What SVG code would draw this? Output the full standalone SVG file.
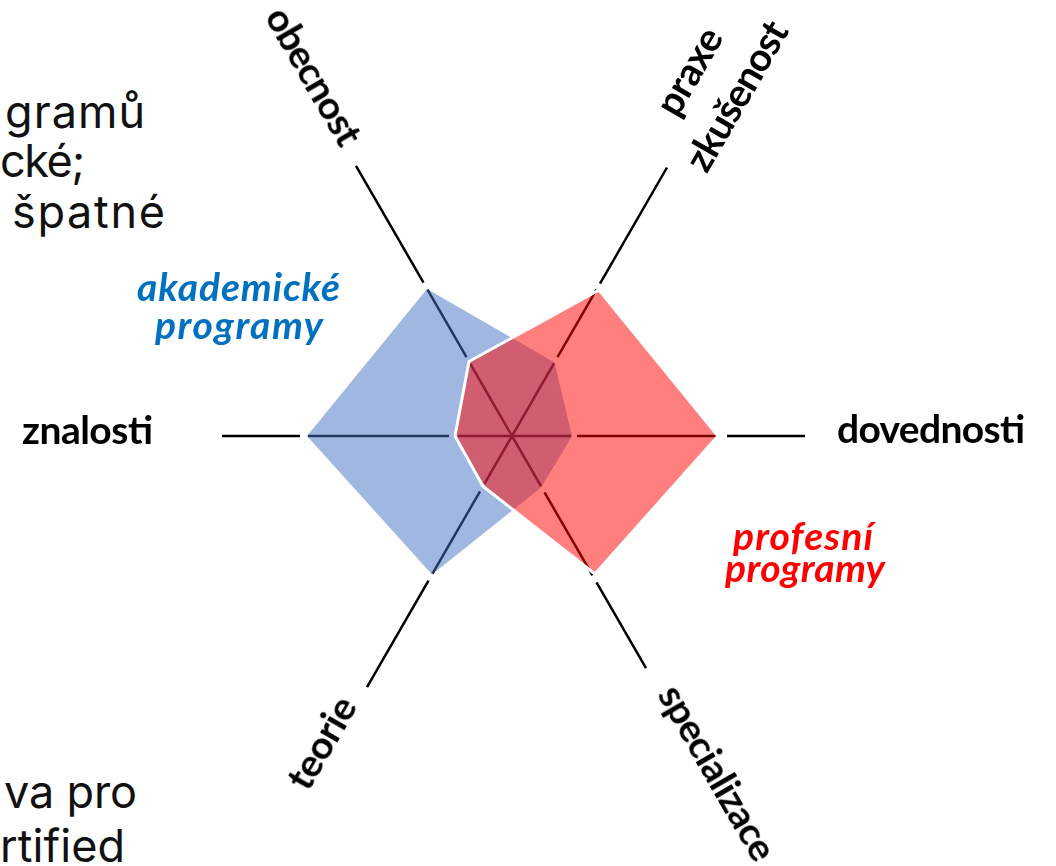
<svg xmlns="http://www.w3.org/2000/svg" width="1056" height="866" viewBox="0 0 1056 866">
  <style>
    .body { font-family: Inter, "Liberation Sans", sans-serif; font-size: 45px; fill: #111; }
    .axis { stroke: #000; stroke-width: 2.5; fill: none; }
    .lbl { font-family: Lato, "Liberation Sans", sans-serif; font-weight: 700; font-size: 39px; fill: #000; }
    .grp { font-family: Lato, "Liberation Sans", sans-serif; font-weight: 700; font-style: italic; font-size: 39px; text-anchor: middle; }
    .acad { fill: #0070C0; }
    .prof { fill: #FF0000; }
    .ctr { text-anchor: middle; }
  </style>
  <defs>
    <filter id="soft" x="-5%" y="-5%" width="110%" height="110%">
      <feGaussianBlur stdDeviation="0.6"/>
    </filter>
  </defs>
  <rect width="1056" height="866" fill="#fff"/>

  <!-- body text fragments on the left -->
  <g id="body-text">
    <text class="body" x="5" y="128" textLength="140">gramů</text>
    <text class="body" x="0" y="177" textLength="85">cké;</text>
    <text class="body" x="12" y="228" textLength="153">špatné</text>
    <text class="body" x="4" y="808" textLength="133">va pro</text>
    <text class="body" x="0" y="862" textLength="125">rtified</text>
  </g>

  <g id="chart" filter="url(#soft)">
    <!-- axis spokes, split where the polygon corners sit -->
    <g id="connectors" class="axis">
      <path d="M512 436H571M577 436H717M727 436H805"/>
      <path d="M512 436H458M449 436H308M300 436H222"/>
      <path d="M512 436L470.5 364.1M466.5 357.2L427.5 289.6M423.5 282.7L356 165.8"/>
      <path d="M512 436L554 363.3M557.5 357.2L596.5 289.6M600 283.6L667 167.5"/>
      <path d="M512 436L541 486.2M544.5 492.3L592.5 575.4M596.5 582.4L646 668.1"/>
      <path d="M512 436L484.5 483.6M480 491.4L432.5 573.7M428.5 580.6L367 687.1"/>
    </g>

    <g id="academic">
      <polygon points="427,289 554.5,362.4 572,436 541.5,487.1 432,574.6 307,436" fill="#4472C4" fill-opacity="0.5"/>
    </g>
    <g id="professional">
      <polygon points="469,361.5 599,290 718,436 595,574 483,486.2 455,436" fill="#FF0000" fill-opacity="0.5" stroke="#fff" stroke-width="3" stroke-linejoin="round"/>
    </g>

    <g id="axis-labels">
      <text class="lbl" x="22" y="444" textLength="131">znalosti</text>
      <text class="lbl" x="837" y="443" textLength="188">dovednosti</text>
      <g transform="translate(310 78.5) rotate(60)">
        <text class="lbl ctr" x="0" y="9" textLength="153">obecnost</text>
      </g>
      <g transform="translate(693 73.5) rotate(-60)">
        <text class="lbl ctr" x="0" y="9" textLength="94">praxe</text>
      </g>
      <g transform="translate(740.5 98) rotate(-60)">
        <text class="lbl ctr" x="0" y="9" textLength="166">zkušenost</text>
      </g>
      <g transform="translate(713.5 775) rotate(60)">
        <text class="lbl ctr" x="0" y="9" textLength="196">specializace</text>
      </g>
      <g transform="translate(325.5 745) rotate(-60)">
        <text class="lbl ctr" x="0" y="9" textLength="100">teorie</text>
      </g>
    </g>

    <g id="series-labels">
      <text class="grp acad" x="238.5" y="301" textLength="203">akademické</text>
      <text class="grp acad" x="239" y="339" textLength="168">programy</text>
      <text class="grp prof" x="803" y="550" textLength="140">profesní</text>
      <text class="grp prof" x="805" y="582" textLength="160">programy</text>
    </g>
  </g>
</svg>
